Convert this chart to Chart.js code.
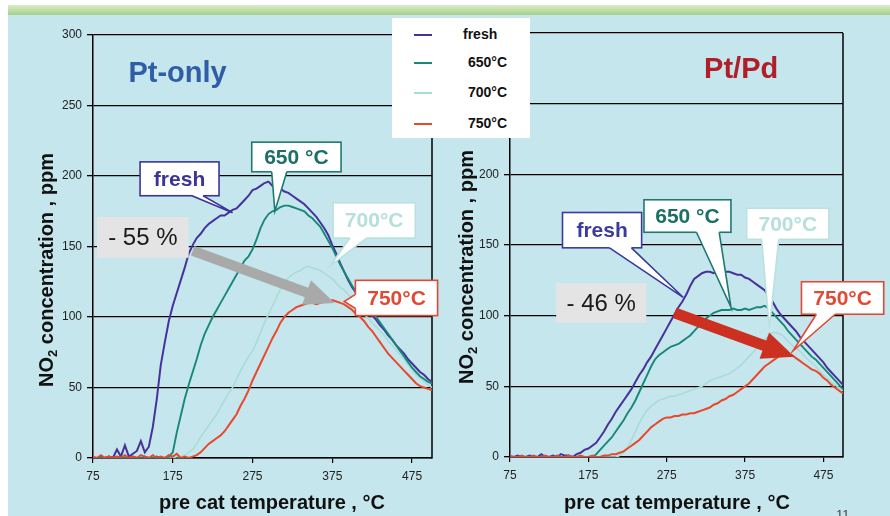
<!DOCTYPE html>
<html>
<head>
<meta charset="utf-8">
<script src="https://cdn.jsdelivr.net/npm/chart.js@4.4.1/dist/chart.umd.min.js"></script>
<style>
  body { margin: 0; width: 890px; height: 516px; overflow: hidden; background: #fff; position: relative;
         font-family: "Liberation Sans", Arial, sans-serif; }
  #band { position: absolute; left: 8px; top: 5px; width: 882px; height: 10px;
          background: linear-gradient(#d9edc9, #a6cf88); }
  #panel { position: absolute; left: 8px; top: 15px; width: 882px; height: 501px; background: #c6e6ed; }
  canvas { position: absolute; top: 0; }
  #legend { position: absolute; left: 392px; top: 18px; width: 138px; height: 120px; background: #fff; }
  #legend div { position: absolute; left: 0; width: 138px; height: 20px; }
  #legend span.line { position: absolute; left: 22px; top: 9px; width: 18px; height: 2px; }
  #legend span.txt { position: absolute; left: 73px; top: 1px; font-size: 14px; font-weight: bold; color: #111; }
  #page { position: absolute; left: 836px; top: 507px; font-size: 13px; color: #444; }
</style>
</head>
<body>
<div id="band"></div>
<div id="panel"></div>
<canvas id="ptChart" width="445" height="516" style="left:0"></canvas>
<canvas id="pdChart" width="445" height="516" style="left:445px"></canvas>
<div id="legend"></div>
<div id="page">11</div>
<script>
// pre cat temperature, °C (5 degree steps)
const temps = [75,80,85,90,95,100,105,110,115,120,125,130,135,140,145,150,155,160,165,170,
  175,180,185,190,195,200,205,210,215,220,225,230,235,240,245,250,255,260,265,270,
  275,280,285,290,295,300,305,310,315,320,325,330,335,340,345,350,355,360,365,370,
  375,380,385,390,395,400,405,410,415,420,425,430,435,440,445,450,455,460,465,470,
  475,480,485,490,495,500];

const xTicks = [75, 175, 275, 375, 475];
const seriesNames = ['fresh', '650°C', '700°C', '750°C'];

// NO2 concentration, ppm - Pt-only catalyst
const ptFresh = [0,0,1,0,1, 0,6,1,9,1, 3,5,12,4,8, 22,42,66,82,97,
  108,117,126,135,145, 151,156,159,163,166, 168,170,172,172,174, 176,177,180,183,186,
  190,191,193,195,196, 193,192,191,189,188, 186,184,182,180,177, 174,171,167,163,158,
  151,145,138,132,126, 121,117,112,108,105, 101,98,94,91,87, 84,80,77,74,70,
  67,64,61,59,56, 54];
const pt650 = [0,0,0,0,1, 0,0,1,0,0, 1,0,0,1,0, 0,1,0,0,1,
  4,18,30,42,52, 61,70,80,88,94, 100,105,110,115,120, 125,130,135,140,143,
  148,155,163,169,173, 175,176,178,179,179, 178,177,176,175,172, 170,167,164,159,154,
  149,143,137,132,127, 122,118,114,110,107, 103,100,96,92,88, 84,80,76,72,68,
  64,61,58,56,54, 53];
const pt700 = [0,0,0,0,0, 0,0,0,0,0, 0,0,0,0,0, 1,0,0,1,0,
  0,1,1,2,4, 6,10,15,19,23, 27,31,36,41,46, 50,56,62,67,72,
  76,82,89,96,102, 108,114,120,125,128, 130,132,133,135,136, 135,134,133,131,129,
  127,124,121,119,116, 113,110,106,102,99, 96,93,90,87,83, 80,77,73,70,66,
  63,59,57,54,52, 50];
const pt750 = [1,0,2,0,1, 0,1,0,2,0, 1,0,2,1,0, 2,0,1,0,2,
  1,3,0,1,0, 1,2,4,7,10, 12,14,16,19,23, 27,31,37,42,48,
  55,61,67,73,79, 85,90,96,100,103, 105,107,108,109,110, 110,109,110,111,111,
  112,111,110,109,107, 105,102,100,97,93, 90,86,82,78,74, 71,68,65,62,59,
  56,53,51,50,49, 48];

// NO2 concentration, ppm - Pt/Pd catalyst
const pdFresh = [0,0,1,0,0, 1,0,0,2,0, 0,1,0,2,1, 1,0,2,3,5,
  6,8,10,14,18, 23,27,32,36,40, 44,48,53,58,62, 67,71,76,81,86,
  91,96,101,106,110, 115,121,126,128,130, 131,131,130,131,132, 131,131,130,129,129,
  127,126,124,122,120, 118,114,110,105,101, 98,95,92,89,85, 82,79,76,73,70,
  67,63,60,57,54, 51];
const pd650 = [0,0,0,0,0, 0,0,0,0,0, 0,0,0,0,0, 0,0,0,0,0,
  0,0,2,5,8, 11,14,18,22,26, 31,35,40,46,52, 58,64,69,72,74,
  76,78,79,80,82, 84,86,89,92,95, 98,100,102,103,104, 104,104,105,104,104,
  105,104,105,106,106, 107,105,102,99,96, 93,89,86,83,80, 77,74,71,69,66,
  63,60,57,54,51, 48];
const pd700 = [0,0,0,0,0, 0,0,0,0,0, 0,0,0,0,0, 0,0,0,0,0,
  0,0,0,0,0, 0,0,0,1,3, 7,12,18,24,29, 33,36,38,40,41,
  42,43,43,44,45, 46,47,48,49,50, 52,54,55,56,57, 58,59,61,63,65,
  68,71,74,77,80, 83,86,88,88,87, 85,82,79,77,75, 72,69,67,64,61,
  58,56,53,51,49, 47];
const pd750 = [1,0,0,1,0, 0,1,0,0,1, 0,0,1,0,0, 1,0,0,1,0,
  0,1,0,0,1, 1,2,2,3,4, 6,8,10,12,15, 18,21,23,25,27,
  28,28,29,29,30, 30,31,31,32,33, 34,35,37,38,40, 41,43,44,46,48,
  50,52,55,58,61, 64,66,68,70,72, 73,73,72,70,68, 66,64,62,61,59,
  56,54,51,49,47, 45];

const lineColors = ['#46329a', '#17877a', '#a9dcd7', '#e8482c'];
const lineWidths = [2, 1.9, 1.6, 2];
const drawOrder = [2, 1, 3, 0];
const FONT = '"Liberation Sans", Arial, sans-serif';

var series = function(values, i) {
  return {
    label: seriesNames[i],
    data: temps.map(function(t, k) { return { x: t, y: values[k] }; }),
    borderColor: lineColors[i],
    borderWidth: lineWidths[i],
    pointRadius: 0,
    tension: 0,
    order: drawOrder[i]
  };
};

// callout box with a pointer wedge, both given in data units
var drawCallout = function(chart, c) {
  var ctx = chart.ctx, sx = chart.scales.x, sy = chart.scales.y;
  var x1 = sx.getPixelForValue(c.box[0]), y1 = sy.getPixelForValue(c.box[1]);
  var x2 = sx.getPixelForValue(c.box[2]), y2 = sy.getPixelForValue(c.box[3]);
  var b1 = [sx.getPixelForValue(c.base[0][0]), sy.getPixelForValue(c.base[0][1])];
  var b2 = [sx.getPixelForValue(c.base[1][0]), sy.getPixelForValue(c.base[1][1])];
  var tip = [sx.getPixelForValue(c.tip[0]), sy.getPixelForValue(c.tip[1])];
  ctx.save();
  ctx.lineWidth = 1.6;
  ctx.strokeStyle = c.color;
  ctx.fillStyle = '#fff';
  ctx.fillRect(x1, y1, x2 - x1, y2 - y1);
  ctx.strokeRect(x1, y1, x2 - x1, y2 - y1);
  // wedge, nudged into the box so it hides the border under its base
  var cx = (x1 + x2) / 2, cy = (y1 + y2) / 2;
  var inset = function(p) {
    return [p[0] + Math.sign(cx - p[0]) * (c.side ? 2 : 0), p[1] + Math.sign(cy - p[1]) * (c.side ? 0 : 2)];
  };
  var i1 = inset(b1), i2 = inset(b2);
  ctx.beginPath();
  ctx.moveTo(i1[0], i1[1]);
  ctx.lineTo(b1[0], b1[1]);
  ctx.lineTo(tip[0], tip[1]);
  ctx.lineTo(b2[0], b2[1]);
  ctx.lineTo(i2[0], i2[1]);
  ctx.closePath();
  ctx.fill();
  ctx.beginPath();
  ctx.moveTo(b1[0], b1[1]);
  ctx.lineTo(tip[0], tip[1]);
  ctx.lineTo(b2[0], b2[1]);
  ctx.stroke();
  ctx.fillStyle = c.textColor;
  ctx.font = 'bold 21px ' + FONT;
  ctx.textAlign = 'center';
  ctx.textBaseline = 'middle';
  ctx.fillText(c.text, cx, cy + 1);
  ctx.restore();
};

var drawArrow = function(chart, a) {
  var ctx = chart.ctx, sx = chart.scales.x, sy = chart.scales.y;
  var x0 = sx.getPixelForValue(a.from[0]), y0 = sy.getPixelForValue(a.from[1]);
  var x1 = sx.getPixelForValue(a.to[0]), y1 = sy.getPixelForValue(a.to[1]);
  var ang = Math.atan2(y1 - y0, x1 - x0);
  var len = Math.hypot(x1 - x0, y1 - y0);
  ctx.save();
  ctx.translate(x0, y0);
  ctx.rotate(ang);
  ctx.fillStyle = a.color;
  var w = a.width / 2, hl = a.headLength, hw = a.headWidth / 2;
  ctx.beginPath();
  ctx.moveTo(0, -w);
  ctx.lineTo(len - hl, -w);
  ctx.lineTo(len - hl, -hw);
  ctx.lineTo(len, 0);
  ctx.lineTo(len - hl, hw);
  ctx.lineTo(len - hl, w);
  ctx.lineTo(0, w);
  ctx.closePath();
  ctx.fill();
  ctx.restore();
};

var notesPlugin = function(notes) {
  return {
    id: 'notes',
    beforeDatasetsDraw: function(chart) {
      var ctx = chart.ctx, a = chart.chartArea;
      ctx.save();
      ctx.strokeStyle = '#000';
      ctx.lineWidth = 1.5;
      ctx.beginPath();
      ctx.moveTo(a.right, a.top);
      ctx.lineTo(a.right, a.bottom + 0.5);
      ctx.stroke();
      ctx.restore();
    },
    afterDatasetsDraw: function(chart) {
      var ctx = chart.ctx, sx = chart.scales.x, sy = chart.scales.y;
      ctx.save();
      ctx.font = 'bold 29px ' + FONT;
      ctx.fillStyle = notes.title.color;
      ctx.textAlign = 'center';
      ctx.textBaseline = 'middle';
      ctx.fillText(notes.title.text, sx.getPixelForValue(notes.title.at[0]), sy.getPixelForValue(notes.title.at[1]));
      // percentage box
      var p = notes.change;
      var px1 = sx.getPixelForValue(p.box[0]), py1 = sy.getPixelForValue(p.box[1]);
      var px2 = sx.getPixelForValue(p.box[2]), py2 = sy.getPixelForValue(p.box[3]);
      ctx.fillStyle = '#e4e4e4';
      ctx.fillRect(px1, py1, px2 - px1, py2 - py1);
      ctx.fillStyle = '#1a1a1a';
      ctx.font = '24px ' + FONT;
      ctx.fillText(p.text, (px1 + px2) / 2, (py1 + py2) / 2 + 1);
      ctx.restore();
      drawArrow(chart, notes.arrow);
      notes.callouts.forEach(function(c) { drawCallout(chart, c); });
    },
    afterDraw: function(chart) {
      var ctx = chart.ctx;
      ctx.save();
      ctx.fillStyle = '#111';
      ctx.textBaseline = 'middle';
      ctx.textAlign = 'center';
      ctx.font = 'bold 20px ' + FONT;
      ctx.fillText('pre cat temperature , °C', notes.xTitle[0], notes.xTitle[1]);
      // rotated y title with subscript 2
      ctx.translate(notes.yTitle[0], notes.yTitle[1]);
      ctx.rotate(-Math.PI / 2);
      ctx.textAlign = 'left';
      var big = 'bold 20px ' + FONT, small = 'bold 13px ' + FONT;
      var rest = ' concentration , ppm';
      ctx.font = big;
      var wNO = ctx.measureText('NO').width, wRest = ctx.measureText(rest).width;
      ctx.font = small;
      var w2 = ctx.measureText('2').width;
      var x = -(wNO + w2 + wRest) / 2;
      ctx.font = big;
      ctx.fillText('NO', x, 0);
      ctx.font = small;
      ctx.fillText('2', x + wNO, 6);
      ctx.font = big;
      ctx.fillText(rest, x + wNO + w2, 0);
      ctx.restore();
    }
  };
};

var buildChart = function(id, values, notes, frame) {
  return new Chart(document.getElementById(id), {
    type: 'line',
    data: { datasets: values.map(series) },
    options: {
      responsive: false,
      animation: false,
      events: [],
      layout: { padding: { left: 0, right: frame.right, top: frame.top, bottom: 0 } },
      plugins: { legend: { display: false }, tooltip: { enabled: false } },
      scales: {
        x: {
          type: 'linear',
          min: 75,
          max: 500,
          afterBuildTicks: function(axis) { axis.ticks = xTicks.map(function(v) { return { value: v }; }); },
          afterFit: function(scale) { scale.height = frame.xHeight; },
          ticks: { color: '#222', font: { family: FONT, size: 12 }, padding: 6, maxRotation: 0 },
          grid: { drawOnChartArea: false, color: '#000', lineWidth: 1.2, tickLength: 5 },
          border: { color: '#000', width: 1.5 }
        },
        y: {
          min: 0,
          max: 300,
          afterFit: function(scale) { scale.width = frame.yWidth; },
          ticks: { stepSize: 50, color: '#222', font: { family: FONT, size: 12 }, padding: 5 },
          grid: { color: '#000', lineWidth: 1.3, tickLength: 6 },
          border: { color: '#000', width: 1.5 }
        }
      }
    },
    plugins: [notesPlugin(notes)]
  });
};

var ptNotes = {
  title: { text: 'Pt-only', at: [181, 272], color: '#2f5da6' },
  change: { text: '- 55 %', box: [80, 171, 195, 142] },
  arrow: { from: [200, 147], to: [378, 110], color: '#a9a9a9', width: 10, headLength: 30, headWidth: 26 },
  callouts: [
    { text: 'fresh', color: '#3c3598', textColor: '#3a3596', box: [134, 210, 233, 186],
      base: [[199, 186], [213, 186]], tip: [250, 174] },
    { text: '650 °C', color: '#1e7a70', textColor: '#1b6f66', box: [274, 224, 386, 203],
      base: [[299, 203], [318, 203]], tip: [303, 175] },
    { text: '700°C', color: '#b9e2de', textColor: '#b5e0dc', box: [376, 181, 479, 156],
      base: [[397, 156], [418, 156]], tip: [372, 136] },
    { text: '750°C', color: '#e04a35', textColor: '#e04a35', box: [404, 126, 507, 101], side: true,
      base: [[404, 116], [404, 106]], tip: [390, 111] }
  ],
  xTitle: [272, 503],
  yTitle: [47, 270]
};

var pdNotes = {
  title: { text: 'Pt/Pd', at: [370, 274], color: '#b01e28' },
  change: { text: '- 46 %', box: [134, 123, 249, 95] },
  arrow: { from: [285, 102], to: [438, 71], color: '#cc3020', width: 11, headLength: 32, headWidth: 28 },
  callouts: [
    { text: 'fresh', color: '#3b3b9b', textColor: '#3b3b9b', box: [142, 173, 243, 148],
      base: [[202, 148], [230, 148]], tip: [296, 113] },
    { text: '650 °C', color: '#1e7a70', textColor: '#1b6f66', box: [246, 182, 357, 159],
      base: [[313, 159], [342, 159]], tip: [357, 106] },
    { text: '700°C', color: '#b9e2de', textColor: '#b5e0dc', box: [377, 176, 482, 154],
      base: [[396, 154], [418, 154]], tip: [406, 91] },
    { text: '750°C', color: '#e04a35', textColor: '#e04a35', box: [447, 124, 552, 101],
      base: [[466, 101], [490, 101]], tip: [436, 75] }
  ],
  xTitle: [232, 503],
  yTitle: [22, 267]
};

buildChart('ptChart', [ptFresh, pt650, pt700, pt750], ptNotes, { right: 13, top: 35, xHeight: 58, yWidth: 93 });
buildChart('pdChart', [pdFresh, pd650, pd700, pd750], pdNotes, { right: 47, top: 33, xHeight: 59, yWidth: 65 });

// shared legend
var legend = document.getElementById('legend');
var rowTops = [7, 35, 65, 96];
seriesNames.forEach(function(name, i) {
  var row = document.createElement('div');
  row.style.top = rowTops[i] + 'px';
  row.innerHTML = '<span class="line" style="background:' + lineColors[i] + '"></span>' +
    '<span class="txt"' + (i == 0 ? ' style="left:71px"' : ' style="left:76px"') + '>' + name + '</span>';
  legend.appendChild(row);
});
</script>
</body>
</html>
